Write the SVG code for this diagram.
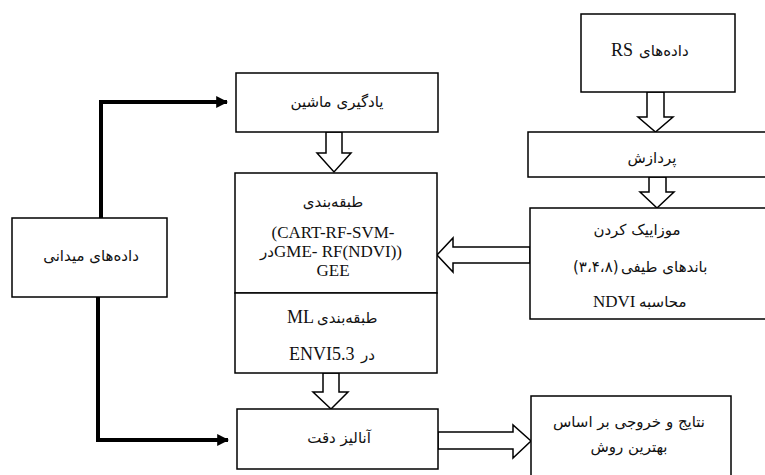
<svg xmlns="http://www.w3.org/2000/svg" width="765" height="475" viewBox="0 0 765 475">
<style>
.box{fill:#fff;stroke:#000;stroke-width:1.5}
.hol{fill:#fff;stroke:#000;stroke-width:1.5;stroke-linejoin:miter}
.thk{fill:none;stroke:#000;stroke-width:4;stroke-linejoin:miter}
text{fill:#111;text-anchor:middle}
.fa{font-family:"DejaVu Sans","Liberation Serif",sans-serif;font-size:15px}
.lat{font-family:"Liberation Serif",serif;font-size:18px}
.cl{font-family:"Liberation Serif",serif;font-size:17px}
.s{text-anchor:start}
.e{text-anchor:end}
</style>
<defs>
<marker id="ah" viewBox="0 0 10 10" refX="9" refY="5" markerWidth="3" markerHeight="3" orient="auto" markerUnits="strokeWidth">
<path d="M0,0 L10,5 L0,10 z" fill="#000"/>
</marker>
</defs>
<rect width="765" height="475" fill="#fff"/>
<g id="connectors">
<path class="thk" d="M101,218 V102 H227" marker-end="url(#ah)"/>
<path class="thk" d="M98,297 V440 H228" marker-end="url(#ah)"/>
<polygon class="hol" points="647,92 664,92 664,117 673,117 655.5,132 638,117 647,117"/>
<polygon class="hol" points="649,177 666,177 666,192 674,192 657,208 640,192 649,192"/>
<polygon class="hol" points="326,132 342,132 342,153 351,153 334,172 317,153 326,153"/>
<polygon class="hol" points="323,373 339,373 339,392 348,392 331,409 313,392 323,392"/>
<polygon class="hol" points="530,247 453,247 453,238 437,255 453,272 453,263 530,263"/>
<polygon class="hol" points="438,432 513,432 513,425 531,441 513,458 513,449 438,449"/>
</g>
<g id="node-rs">
<rect class="box" x="581" y="14" width="154" height="78"/>
<text x="611" y="56" class="lat s">RS</text>
<text x="639" y="56" class="fa s">داده‌های</text>
</g>
<g id="node-processing">
<rect class="box" x="528" y="132" width="245" height="45"/>
<text x="652" y="163" class="fa">پردازش</text>
</g>
<g id="node-mosaic">
<rect class="box" x="530" y="208" width="245" height="111"/>
<text x="637" y="235" class="fa">موزاییک کردن</text>
<text x="573" y="272" class="fa s">(۳،۴،۸)</text>
<text x="621" y="272" class="fa s">باندهای طیفی</text>
<text x="593" y="307" class="cl s">NDVI</text>
<text x="639" y="307" class="fa s">محاسبه</text>
</g>
<g id="node-ml">
<rect class="box" x="236" y="73" width="202" height="59"/>
<text x="337" y="107" class="fa">یادگیری ماشین</text>
</g>
<g id="node-classification">
<rect class="box" x="235" y="173" width="202" height="120"/>
<text x="333" y="207" class="fa">طبقه‌بندی</text>
<text x="333" y="238" class="cl">(CART-RF-SVM-</text>
<text x="274" y="257" class="fa e">در</text>
<text x="274" y="257" class="cl s">GME- RF(NDVI))</text>
<text x="333" y="276" class="cl">GEE</text>
</g>
<g id="node-envi">
<rect class="box" x="235" y="293" width="202" height="80"/>
<text x="287" y="323" class="lat s">ML</text>
<text x="317" y="323" class="fa s">طبقه‌بندی</text>
<text x="289" y="360" class="lat s">ENVI5.3</text>
<text x="361" y="360" class="fa s">در</text>
</g>
<g id="node-field">
<rect class="box" x="12" y="218" width="155" height="79"/>
<text x="91" y="261" class="fa">داده‌های میدانی</text>
</g>
<g id="node-accuracy">
<rect class="box" x="237" y="409" width="201" height="60"/>
<text x="339" y="443" class="fa">آنالیز دقت</text>
</g>
<g id="node-results">
<rect class="box" x="531" y="396" width="200" height="90"/>
<text x="629" y="427" class="fa">نتایج و خروجی بر اساس</text>
<text x="629" y="452" class="fa">بهترین روش</text>
</g>
</svg>
